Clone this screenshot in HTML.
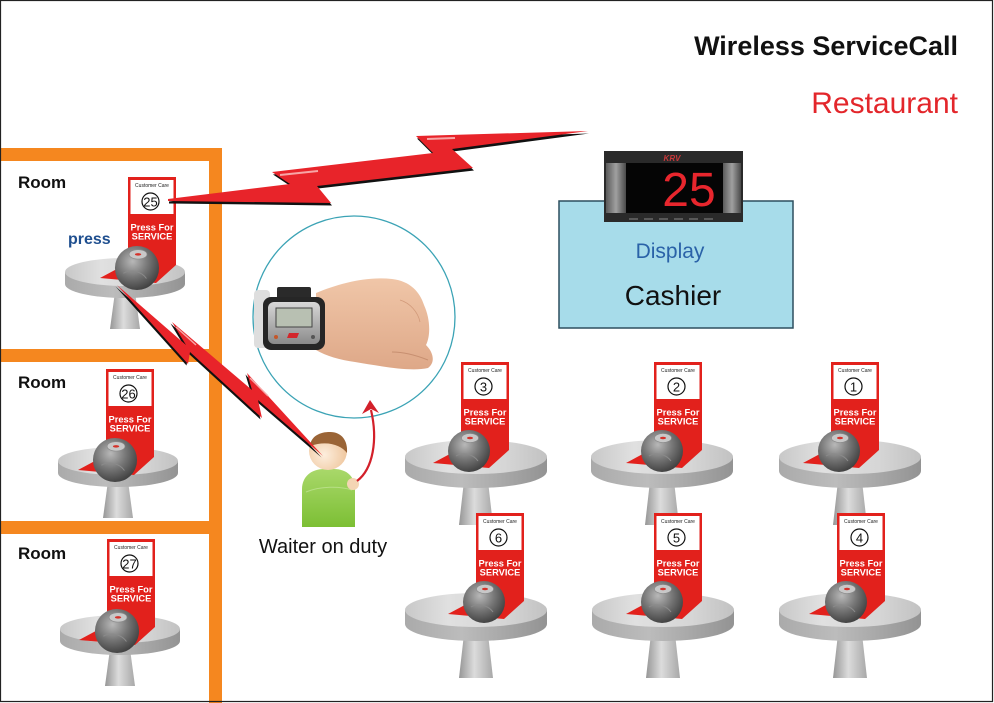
<!DOCTYPE html>
<html>
<head>
<meta charset="utf-8">
<style>
  html,body{margin:0;padding:0;background:#fff;}
  svg{display:block;}
  text{font-family:"Liberation Sans", Arial, sans-serif;}
</style>
</head>
<body>
<svg width="994" height="703" viewBox="0 0 994 703" xmlns="http://www.w3.org/2000/svg">
  <defs>
    <linearGradient id="top" x1="0" y1="0" x2="1" y2="0">
      <stop offset="0" stop-color="#c8c8c8"/>
      <stop offset="0.3" stop-color="#e0e0e0"/>
      <stop offset="0.7" stop-color="#d6d6d6"/>
      <stop offset="1" stop-color="#c2c2c2"/>
    </linearGradient>
    <linearGradient id="edge" x1="0" y1="0" x2="1" y2="0">
      <stop offset="0" stop-color="#aaaaaa"/>
      <stop offset="0.4" stop-color="#bcbcbc"/>
      <stop offset="1" stop-color="#939393"/>
    </linearGradient>
    <linearGradient id="ped" x1="0" y1="0" x2="1" y2="0">
      <stop offset="0" stop-color="#969696"/>
      <stop offset="0.45" stop-color="#dcdcdc"/>
      <stop offset="1" stop-color="#a8a8a8"/>
    </linearGradient>
    <radialGradient id="ballg" cx="0.4" cy="0.35" r="0.7">
      <stop offset="0" stop-color="#b8b8b8"/>
      <stop offset="0.5" stop-color="#767676"/>
      <stop offset="1" stop-color="#3c3c3c"/>
    </radialGradient>
    <linearGradient id="green" x1="0" y1="0" x2="0" y2="1">
      <stop offset="0" stop-color="#a9d86a"/>
      <stop offset="1" stop-color="#7cbf34"/>
    </linearGradient>
    <radialGradient id="face" cx="0.4" cy="0.6" r="0.6">
      <stop offset="0" stop-color="#fdeedd"/>
      <stop offset="1" stop-color="#efc79f"/>
    </radialGradient>
    <linearGradient id="skin" x1="0" y1="0" x2="0" y2="1">
      <stop offset="0" stop-color="#f0c6a8"/>
      <stop offset="1" stop-color="#dea888"/>
    </linearGradient>
    <linearGradient id="side" x1="0" y1="0" x2="1" y2="0">
      <stop offset="0" stop-color="#5a5a5a"/>
      <stop offset="0.5" stop-color="#a0a0a0"/>
      <stop offset="1" stop-color="#4a4a4a"/>
    </linearGradient>
    <linearGradient id="silver" x1="0" y1="0" x2="0" y2="1">
      <stop offset="0" stop-color="#d8d8d8"/>
      <stop offset="1" stop-color="#8a8a8a"/>
    </linearGradient>

    <g id="rowTbl">
      <polygon points="-12,24 12,24 17,68 -17,68" fill="url(#ped)"/>
      <path d="M-71,0 V14 A71,17 0 0 0 71,14 V0 Z" fill="url(#edge)"/>
      <ellipse rx="71" ry="17" fill="url(#top)"/>
    </g>
    <g id="roomTbl">
      <polygon points="-10,20 10,20 15,57 -15,57" fill="url(#ped)"/>
      <path d="M-60,0 V12 A60,14 0 0 0 60,12 V0 Z" fill="url(#edge)"/>
      <ellipse rx="60" ry="14" fill="url(#top)"/>
    </g>
    <g id="stand">
      <polygon points="0,0 48,0 48,88 28,106 -28,101 0,86" fill="#e2211c"/>
      <rect x="2.5" y="3" width="43" height="34" fill="#fff"/>
      <circle cx="22.5" cy="24.5" r="8.5" fill="#fff" stroke="#111" stroke-width="1.2"/>
    </g>
    <g id="ball">
      <circle r="21" fill="url(#ballg)"/>
      <ellipse cx="1" cy="-13" rx="8.5" ry="4.5" fill="#c8c8c8" stroke="#8a8a8a" stroke-width="0.6"/>
      <ellipse cx="1" cy="-13" rx="3" ry="1.2" fill="#d4322a"/>
      <path d="M-13,5 C-6,1 4,3 9,10" stroke="#8a8a8a" fill="none" stroke-width="1"/>
    </g>
  </defs>

  <rect x="0" y="0" width="994" height="703" fill="#fff"/>

  <!-- titles -->
  <text x="958" y="55" text-anchor="end" font-size="27" font-weight="bold" fill="#111">Wireless ServiceCall</text>
  <text x="958" y="113" text-anchor="end" font-size="30" fill="#e3262b">Restaurant</text>

  <!-- orange room frame -->
  <g fill="#f5871f">
    <rect x="0" y="148" width="222" height="13"/>
    <rect x="209" y="148" width="13" height="555"/>
    <rect x="0" y="349" width="222" height="13"/>
    <rect x="0" y="521" width="222" height="13"/>
  </g>

  <text x="18" y="188" font-size="17" font-weight="bold" fill="#111">Room</text>
  <text x="18" y="388" font-size="17" font-weight="bold" fill="#111">Room</text>
  <text x="18" y="559" font-size="17" font-weight="bold" fill="#111">Room</text>
  <text x="68" y="244" font-size="16" font-weight="bold" fill="#1f4f8f">press</text>

  <!-- Room unit 25 -->
  <g transform="translate(128,177)">
    <use href="#roomTbl" x="-3" y="95"/>
    <use href="#stand"/>
    <text x="24" y="10" font-size="5" text-anchor="middle" fill="#222">Customer Care</text>
    <text x="22.5" y="29.5" font-size="13" text-anchor="middle" fill="#111">25</text>
    <text x="24" y="53.5" font-size="9.3" font-weight="bold" text-anchor="middle" fill="#fff">Press For</text>
    <text x="24" y="62.5" font-size="9.3" font-weight="bold" text-anchor="middle" fill="#fff">SERVICE</text>
    <g transform="translate(9,91) scale(1.05)"><use href="#ball"/></g>
  </g>
  <!-- Room unit 26 -->
  <g transform="translate(106,369)">
    <use href="#roomTbl" x="12" y="92"/>
    <use href="#stand"/>
    <text x="24" y="10" font-size="5" text-anchor="middle" fill="#222">Customer Care</text>
    <text x="22.5" y="29.5" font-size="13" text-anchor="middle" fill="#111">26</text>
    <text x="24" y="53.5" font-size="9.3" font-weight="bold" text-anchor="middle" fill="#fff">Press For</text>
    <text x="24" y="62.5" font-size="9.3" font-weight="bold" text-anchor="middle" fill="#fff">SERVICE</text>
    <g transform="translate(9,91) scale(1.05)"><use href="#ball"/></g>
  </g>
  <!-- Room unit 27 -->
  <g transform="translate(107,539)">
    <use href="#roomTbl" x="13" y="90"/>
    <use href="#stand"/>
    <text x="24" y="10" font-size="5" text-anchor="middle" fill="#222">Customer Care</text>
    <text x="22.5" y="29.5" font-size="13" text-anchor="middle" fill="#111">27</text>
    <text x="24" y="53.5" font-size="9.3" font-weight="bold" text-anchor="middle" fill="#fff">Press For</text>
    <text x="24" y="62.5" font-size="9.3" font-weight="bold" text-anchor="middle" fill="#fff">SERVICE</text>
    <g transform="translate(10,92) scale(1.05)"><use href="#ball"/></g>
  </g>

  <!-- Cashier box with display -->
  <rect x="559" y="201" width="234" height="127" fill="#a7dcea" stroke="#2d4f5f" stroke-width="1.5"/>
  <text x="670" y="258" font-size="21" text-anchor="middle" fill="#2a62a8">Display</text>
  <text x="673" y="305" font-size="28" text-anchor="middle" fill="#111">Cashier</text>
  <g>
    <rect x="604" y="151" width="139" height="71" fill="#2a2a2a"/>
    <rect x="606" y="163" width="20" height="50" fill="url(#side)"/>
    <rect x="723" y="163" width="18" height="50" fill="url(#side)"/>
    <rect x="626" y="163" width="97" height="50" fill="#050505"/>
    <text x="672" y="161" font-size="8" font-weight="bold" font-style="italic" text-anchor="middle" fill="#c8383a">KRV</text>
    <text x="689" y="206" font-size="48" text-anchor="middle" fill="#e8262d">25</text>
    <g stroke="#777" stroke-width="1.2">
      <line x1="629" y1="219" x2="638" y2="219"/>
      <line x1="644" y1="219" x2="653" y2="219"/>
      <line x1="659" y1="219" x2="668" y2="219"/>
      <line x1="674" y1="219" x2="683" y2="219"/>
      <line x1="689" y1="219" x2="698" y2="219"/>
      <line x1="704" y1="219" x2="713" y2="219"/>
    </g>
  </g>

  <!-- Watch circle -->
  <circle cx="354" cy="317" r="101" fill="none" stroke="#3ba3b5" stroke-width="1.3"/>
  <rect x="254" y="290" width="16" height="58" rx="4" fill="#dedede"/>
  <path d="M316,293 C338,284 365,276 392,279 C410,281 420,292 424,305 C430,318 431,335 426,345 C433,352 436,362 428,368 C410,372 380,366 355,362 C340,360 326,356 316,350 Z" fill="url(#skin)"/>
  <path d="M392,352 C405,352 418,356 428,360" stroke="#c78f70" stroke-width="1" fill="none"/>
  <path d="M400,300 C410,303 418,312 420,322" stroke="#d29a7a" stroke-width="0.8" fill="none"/>
  <rect x="277" y="287" width="34" height="13" rx="2" fill="#2a2a2a"/>
  <rect x="263" y="297" width="62" height="53" rx="8" fill="#262626"/>
  <rect x="268" y="302" width="52" height="42" rx="6" fill="url(#silver)"/>
  <rect x="276" y="308" width="36" height="19" fill="#b8c0b2" stroke="#444" stroke-width="1"/>
  <path d="M289,333 L299,333 L297,338 L287,338 Z" fill="#d3262b"/>
  <circle cx="276" cy="337" r="2" fill="#c4572a"/>
  <circle cx="313" cy="337" r="2" fill="#555"/>

  <!-- Row 1 tables: 3, 2, 1 -->
  <g transform="translate(461,362)">
    <use href="#rowTbl" x="15" y="95"/>
    <use href="#stand"/>
    <text x="24" y="10" font-size="5" text-anchor="middle" fill="#222">Customer Care</text>
    <text x="22.5" y="29.5" font-size="13" text-anchor="middle" fill="#111">3</text>
    <text x="24" y="53.5" font-size="9.3" font-weight="bold" text-anchor="middle" fill="#fff">Press For</text>
    <text x="24" y="62.5" font-size="9.3" font-weight="bold" text-anchor="middle" fill="#fff">SERVICE</text>
    <use href="#ball" x="8" y="89"/>
  </g>
  <g transform="translate(654,362)">
    <use href="#rowTbl" x="8" y="95"/>
    <use href="#stand"/>
    <text x="24" y="10" font-size="5" text-anchor="middle" fill="#222">Customer Care</text>
    <text x="22.5" y="29.5" font-size="13" text-anchor="middle" fill="#111">2</text>
    <text x="24" y="53.5" font-size="9.3" font-weight="bold" text-anchor="middle" fill="#fff">Press For</text>
    <text x="24" y="62.5" font-size="9.3" font-weight="bold" text-anchor="middle" fill="#fff">SERVICE</text>
    <use href="#ball" x="8" y="89"/>
  </g>
  <g transform="translate(831,362)">
    <use href="#rowTbl" x="19" y="95"/>
    <use href="#stand"/>
    <text x="24" y="10" font-size="5" text-anchor="middle" fill="#222">Customer Care</text>
    <text x="22.5" y="29.5" font-size="13" text-anchor="middle" fill="#111">1</text>
    <text x="24" y="53.5" font-size="9.3" font-weight="bold" text-anchor="middle" fill="#fff">Press For</text>
    <text x="24" y="62.5" font-size="9.3" font-weight="bold" text-anchor="middle" fill="#fff">SERVICE</text>
    <use href="#ball" x="8" y="89"/>
  </g>

  <!-- Row 2 tables: 6, 5, 4 -->
  <g transform="translate(476,513)">
    <use href="#rowTbl" x="0" y="97"/>
    <use href="#stand"/>
    <text x="24" y="10" font-size="5" text-anchor="middle" fill="#222">Customer Care</text>
    <text x="22.5" y="29.5" font-size="13" text-anchor="middle" fill="#111">6</text>
    <text x="24" y="53.5" font-size="9.3" font-weight="bold" text-anchor="middle" fill="#fff">Press For</text>
    <text x="24" y="62.5" font-size="9.3" font-weight="bold" text-anchor="middle" fill="#fff">SERVICE</text>
    <use href="#ball" x="8" y="89"/>
  </g>
  <g transform="translate(654,513)">
    <use href="#rowTbl" x="9" y="97"/>
    <use href="#stand"/>
    <text x="24" y="10" font-size="5" text-anchor="middle" fill="#222">Customer Care</text>
    <text x="22.5" y="29.5" font-size="13" text-anchor="middle" fill="#111">5</text>
    <text x="24" y="53.5" font-size="9.3" font-weight="bold" text-anchor="middle" fill="#fff">Press For</text>
    <text x="24" y="62.5" font-size="9.3" font-weight="bold" text-anchor="middle" fill="#fff">SERVICE</text>
    <use href="#ball" x="8" y="89"/>
  </g>
  <g transform="translate(837,513)">
    <use href="#rowTbl" x="13" y="97"/>
    <use href="#stand"/>
    <text x="24" y="10" font-size="5" text-anchor="middle" fill="#222">Customer Care</text>
    <text x="22.5" y="29.5" font-size="13" text-anchor="middle" fill="#111">4</text>
    <text x="24" y="53.5" font-size="9.3" font-weight="bold" text-anchor="middle" fill="#fff">Press For</text>
    <text x="24" y="62.5" font-size="9.3" font-weight="bold" text-anchor="middle" fill="#fff">SERVICE</text>
    <use href="#ball" x="9" y="89"/>
  </g>

  <!-- Waiter -->
  <path d="M302,527 L302,489 C302,477 311,469 324,469 L334,469 C347,469 355,477 355,489 L355,527 Z" fill="url(#green)"/>
  <path d="M306,492 C320,486 340,486 352,490" stroke="#c4e69a" stroke-width="1" fill="none" opacity="0.7"/>
  <circle cx="328" cy="451" r="19" fill="url(#face)"/>
  <path d="M310,446 C311,436 320,432 330,432 C342,432 348,441 347,453 C341,445 327,440 310,446 Z" fill="#9a6436"/>
  <circle cx="353" cy="484" r="6" fill="#f4d5b4"/>
  <text x="323" y="553" font-size="20" text-anchor="middle" fill="#111">Waiter on duty</text>

  <!-- red curved arrow -->
  <path d="M357,481 C373,469 378,440 371,410" stroke="#d3202a" stroke-width="2.2" fill="none"/>
  <polygon points="370,400 362,414 371,409 379,413" fill="#d3202a"/>

  <!-- Lightning bolt 1 (top) -->
  <polygon points="168,199 290,184 272,172 433,153 416,136 588,131 452,149 473,168 317,186 331,203 168,201" fill="#111" transform="translate(1,2.5)"/>
  <polygon points="168,199 290,184 272,172 433,153 416,136 588,131 452,149 473,168 317,186 331,203 168,201" fill="#e8242a"/>
  <polyline points="280,175 318,171" stroke="#f7a6a6" stroke-width="2" fill="none"/>
  <polyline points="427,139 455,138" stroke="#f7a6a6" stroke-width="2" fill="none"/>

  <!-- Lightning bolt 2 (diagonal) -->
  <polygon points="117,285 186,345 172,322 252,390 247,373 323,456 258,400 262,418 190,352 188,364" fill="#111" transform="translate(-1.5,1.5)"/>
  <polygon points="117,285 186,345 172,322 252,390 247,373 323,456 258,400 262,418 190,352 188,364" fill="#e8242a"/>
  <polyline points="176,327 196,345" stroke="#f7a6a6" stroke-width="1.5" fill="none"/>
  <polyline points="250,378 268,396" stroke="#f7a6a6" stroke-width="1.5" fill="none"/>

  <!-- outer border -->
  <rect x="0.5" y="0.5" width="992" height="701" fill="none" stroke="#222" stroke-width="1.2"/>
</svg>
</body>
</html>
